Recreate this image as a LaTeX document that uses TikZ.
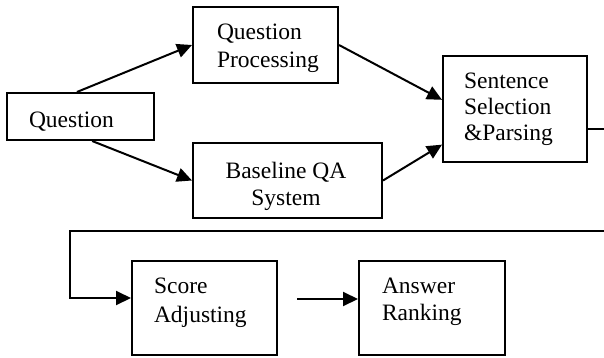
\documentclass[tikz,border=0pt]{standalone}
\usepackage{fontspec}
\setmainfont{Liberation Serif}
\usetikzlibrary{arrows.meta,calc}
\begin{document}
\begin{tikzpicture}[x=0.5pt,y=-0.5pt,line width=1pt,
  box/.style={draw,line width=1pt,inner sep=0pt},
  lbl/.style={inner sep=0pt,anchor=north west,align=left,font=\fontsize{11.75}{14}\selectfont},
  arr/.style={-{Triangle[length=7.5pt,width=7pt]}}]
\useasboundingbox (0,0) rectangle (604,358);

% boxes
\node[box,minimum width=73.5pt,minimum height=23.5pt] (q)   at (80.5,116.5) {};
\node[box,minimum width=72.5pt,minimum height=38pt]   (qp)  at (265.5,45)   {};
\node[box,minimum width=94.5pt,minimum height=37.5pt] (bqa) at (287.5,180.5) {};
\node[box,minimum width=72pt,minimum height=53pt]     (ss)  at (515,109)    {};
\node[box,minimum width=72.5pt,minimum height=47pt]   (sc)  at (204.5,308)  {};
\node[box,minimum width=73pt,minimum height=47pt]     (ans) at (432,308)    {};

% box texts
\node[lbl] (q-t)  at (28,111)  {Question};
\node[lbl] (qp-t) at (216,23)  {Question\\Processing};
\node[lbl,anchor=north,align=center,font=\fontsize{11.75}{13.5}\selectfont] (bqa-t) at (286,161) {Baseline QA\\System};
\node[lbl,font=\fontsize{11.75}{13}\selectfont]   (ss-t)  at (463,72)  {Sentence\\Selection\\\&Parsing};
\node[lbl,font=\fontsize{11.75}{14.5}\selectfont] (sc-t)  at (153,277) {Score\\Adjusting};
\node[lbl,font=\fontsize{11.75}{13.5}\selectfont] (ans-t) at (381,277) {Answer\\Ranking};

% connectors
\draw[arr] ($(q.north west)!0.476!(q.north east)$) -- (qp.west);
\draw[arr] ($(q.south west)!0.578!(q.south east)$) -- (bqa.west);
\draw[arr] (qp.east) -- ($(ss.north west)!0.415!(ss.south west)$);
\draw[arr] (bqa.east) -- ($(ss.north west)!0.83!(ss.south west)$);

\coordinate (outR) at (604,129);
\draw (ss.east |- outR) -- (outR);

\coordinate (inR)  at (604,231);
\coordinate (turn) at (70,231);
\coordinate (scin) at (70,298);
\draw[arr] (inR) -- (turn) -- (scin) -- (sc.west |- scin);

\coordinate (gap) at (297,299);
\draw[arr] (gap) -- (ans.west |- gap);
\end{tikzpicture}
\end{document}
